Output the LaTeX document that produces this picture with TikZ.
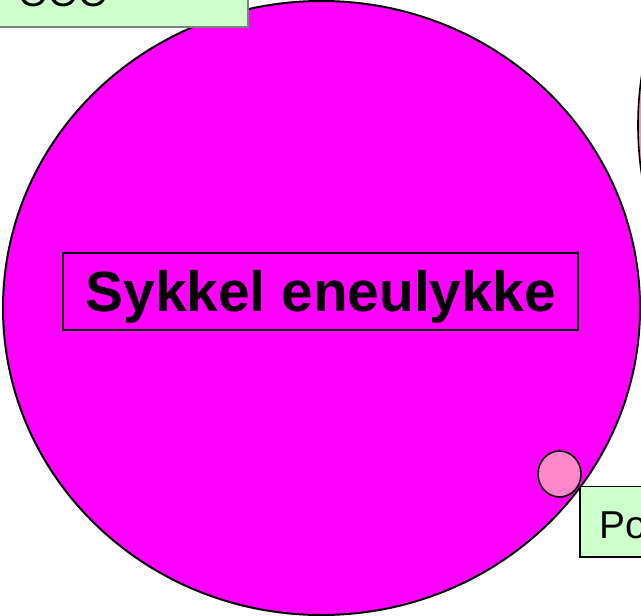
\documentclass[tikz,border=0pt]{standalone}
\usepackage{fontspec}
\setmainfont{Liberation Sans}
\usetikzlibrary{shapes.geometric}
\definecolor{bubble}{HTML}{FF00FF}
\definecolor{note}{HTML}{CCFFCC}
\definecolor{dot}{HTML}{FF88CC}
\definecolor{noteedge}{HTML}{808080}
\tikzset{
  bigarea/.style={draw=black, line width=2bp, fill=bubble},
  subarea/.style={draw=black, line width=1.6bp, fill=dot},
  notebox/.style={fill=note, line width=1.6bp},
  notetext/.style={font=\fontsize{39}{39}\selectfont, inner sep=0pt, anchor=base west},
  titlebox/.style={draw=black, line width=1.5bp, inner sep=0pt},
  titletext/.style={font=\fontsize{57}{57}\selectfont\bfseries, inner sep=0pt, anchor=base},
}
\begin{document}
\begin{tikzpicture}[x=1bp, y=-1bp]
\useasboundingbox (0,0) rectangle (641,616);
\clip (0,0) rectangle (641,616);

% main region and the neighbouring region at the right edge
\draw[bigarea] (321.5,308) ellipse [x radius=318.5, y radius=307];
\draw[subarea] (758,125) ellipse [x radius=120, y radius=201];

% heading label in the middle
\node[titlebox, minimum width=515bp, minimum height=77bp] (titleframe) at (320.5,291.5) {};
\node[titletext] (title) at (321,311) {Sykkel eneulykke};

% small point on the rim
\node[subarea, ellipse, minimum width=43bp, minimum height=46bp, inner sep=0pt] (point) at (559.5,474) {};

% note boxes
\draw[notebox, draw=noteedge, line width=2bp] (-10,-20) rectangle (247.5,27);
\node[notetext] (topnote) at (18,6.5) {OOO};
\draw[notebox, draw=black] (580,486.5) rectangle (700,557);
\node[notetext] (ponote) at (599,538) {Po};
\end{tikzpicture}
\end{document}
